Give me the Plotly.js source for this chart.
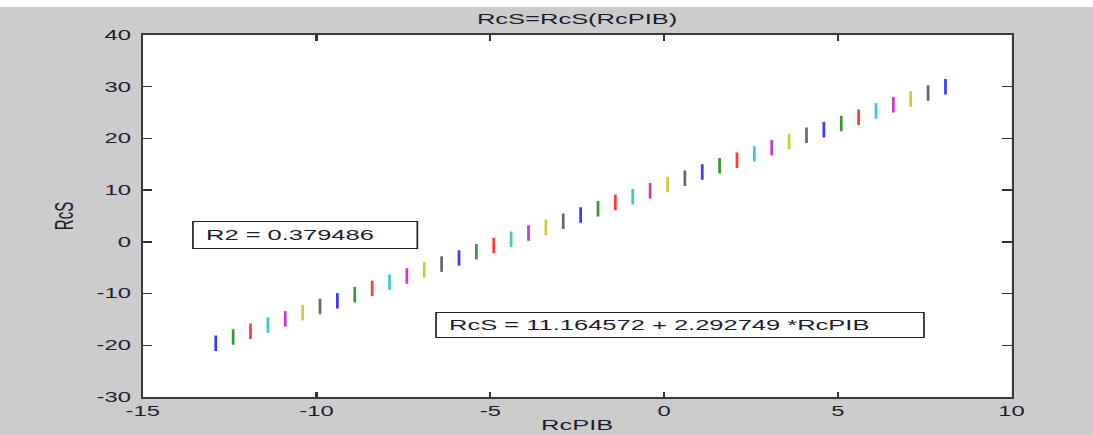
<!DOCTYPE html>
<html>
<head>
<meta charset="utf-8">
<script src="https://cdn.plot.ly/plotly-3.0.1.min.js"></script>
<style>
html, body { margin: 0; padding: 0; background: #ffffff; width: 1093px; height: 435px; overflow: hidden; }
#wrap { position: absolute; left: 0; top: 7px; width: 643px; height: 428px; transform: scaleX(1.7); transform-origin: 0 0; }
#chart { width: 643px; height: 428px; }
</style>
</head>
<body>
<div id="wrap"><div id="chart"></div></div>
<script>
// RcPIB values of each vertical segment
var rcPIB = [-12.9, -12.4, -11.9, -11.4, -10.9, -10.4, -9.9, -9.4, -8.9, -8.4, -7.9, -7.4, -6.9, -6.4, -5.9,
             -5.4, -4.9, -4.4, -3.9, -3.4, -2.9, -2.4, -1.9, -1.4, -0.9, -0.4, 0.1, 0.6, 1.1, 1.6,
             2.1, 2.6, 3.1, 3.6, 4.1, 4.6, 5.1, 5.6, 6.1, 6.6, 7.1, 7.6, 8.1];
// lower and upper RcS ends of each segment
var rcSLow  = [-21.1, -19.9, -18.8, -17.6, -16.4, -15.2, -14.0, -12.9, -11.7, -10.5, -9.3, -8.1, -6.9, -5.8, -4.6,
               -3.4, -2.2, -1.0, 0.2, 1.3, 2.5, 3.7, 4.9, 6.1, 7.2, 8.4, 9.6, 10.8, 12.0, 13.2,
               14.3, 15.5, 16.7, 17.9, 19.1, 20.2, 21.4, 22.6, 23.8, 25.0, 26.1, 27.3, 28.5];
var rcSHigh = [-18.1, -16.9, -15.8, -14.6, -13.4, -12.2, -11.0, -9.9, -8.7, -7.5, -6.3, -5.1, -3.9, -2.8, -1.6,
               -0.4, 0.8, 2.0, 3.2, 4.3, 5.5, 6.7, 7.9, 9.1, 10.2, 11.4, 12.6, 13.8, 15.0, 16.2,
               17.3, 18.5, 19.7, 20.9, 22.1, 23.2, 24.4, 25.6, 26.8, 28.0, 29.1, 30.3, 31.5];
var colorCycle = ['#3a3aff', '#35993a', '#ff3a3a', '#38cccc', '#cc38cc', '#cccc38', '#686868'];
var xTickVals = [-15, -10, -5, 0, 5, 10];
var xTickText = ['-15', '-10', '-5', '0', '5', '10'];
var yTickVals = [-30, -20, -10, 0, 10, 20, 30, 40];
var yTickText = ['-30', '-20', '-10', '0', '10', '20', '30', '40'];
var r2Text = 'R2 = 0.379486';
var fitText = 'RcS = 11.164572 + 2.292749 *RcPIB';

var traces = [];
for (var k = 0; k < colorCycle.length; k++) {
  var xs = [], ys = [];
  for (var i = k; i < rcPIB.length; i += colorCycle.length) {
    xs.push(rcPIB[i], rcPIB[i], null);
    ys.push(rcSLow[i], rcSHigh[i], null);
  }
  traces.push({x: xs, y: ys, type: 'scatter', mode: 'lines', connectgaps: false,
               line: {color: colorCycle[k], width: 1.6}, hoverinfo: 'skip', showlegend: false});
}

var FONT = 'Liberation Sans, Arial, sans-serif';
var TXT = '#1c1c30';

var layout = {
  width: 643, height: 428,
  margin: {l: 84, r: 48, t: 28, b: 38, pad: 0},
  paper_bgcolor: '#cccccc',
  plot_bgcolor: '#ffffff',
  showlegend: false,
  font: {family: FONT, color: TXT, size: 14},
  title: {text: 'RcS=RcS(RcPIB)', font: {family: FONT, size: 15, color: TXT},
          x: 0.5, xref: 'paper', xanchor: 'center', y: 1 - 12 / 428, yref: 'container', yanchor: 'middle'},
  xaxis: {
    range: [-15, 10], tickmode: 'array', tickvals: xTickVals, ticktext: xTickText,
    ticks: 'inside', ticklen: 5.5, tickwidth: 1.3, tickcolor: '#333333',
    showline: true, linecolor: '#3a3a3a', linewidth: 2, mirror: 'ticks',
    showgrid: false, zeroline: false,
    tickfont: {family: FONT, size: 14, color: TXT},
    title: {text: 'RcPIB', font: {family: FONT, size: 15, color: TXT}, standoff: 2}
  },
  yaxis: {
    range: [-30, 40], tickmode: 'array', tickvals: yTickVals, ticktext: yTickText,
    ticks: 'inside', ticklen: 5.5, tickwidth: 1.5, tickcolor: '#333333',
    showline: true, linecolor: '#3a3a3a', linewidth: 1.2, mirror: 'ticks',
    showgrid: false, zeroline: false, ticklabelstandoff: 3,
    tickfont: {family: FONT, size: 14, color: TXT},
    title: {text: 'RcS', font: {family: FONT, size: 15, color: TXT}, standoff: 9}
  },
  annotations: [
    {x: -13.56, y: 1.33, xref: 'x', yref: 'y', xanchor: 'left', yanchor: 'middle',
     text: '\u00a0' + r2Text, showarrow: false, align: 'left', valign: 'middle',
     width: 125, height: 20, borderpad: 3, borderwidth: 1, bordercolor: '#222222', bgcolor: '#ffffff',
     font: {family: FONT, size: 15, color: TXT}},
    {x: -6.60, y: -16.02, xref: 'x', yref: 'y', xanchor: 'left', yanchor: 'middle',
     text: '\u00a0' + fitText, showarrow: false, align: 'left', valign: 'middle',
     width: 279.6, height: 18, borderpad: 3, borderwidth: 1, bordercolor: '#222222', bgcolor: '#ffffff',
     font: {family: FONT, size: 15, color: TXT}}
  ]
};

Plotly.newPlot('chart', traces, layout, {staticPlot: true, displayModeBar: false});
</script>
</body>
</html>
